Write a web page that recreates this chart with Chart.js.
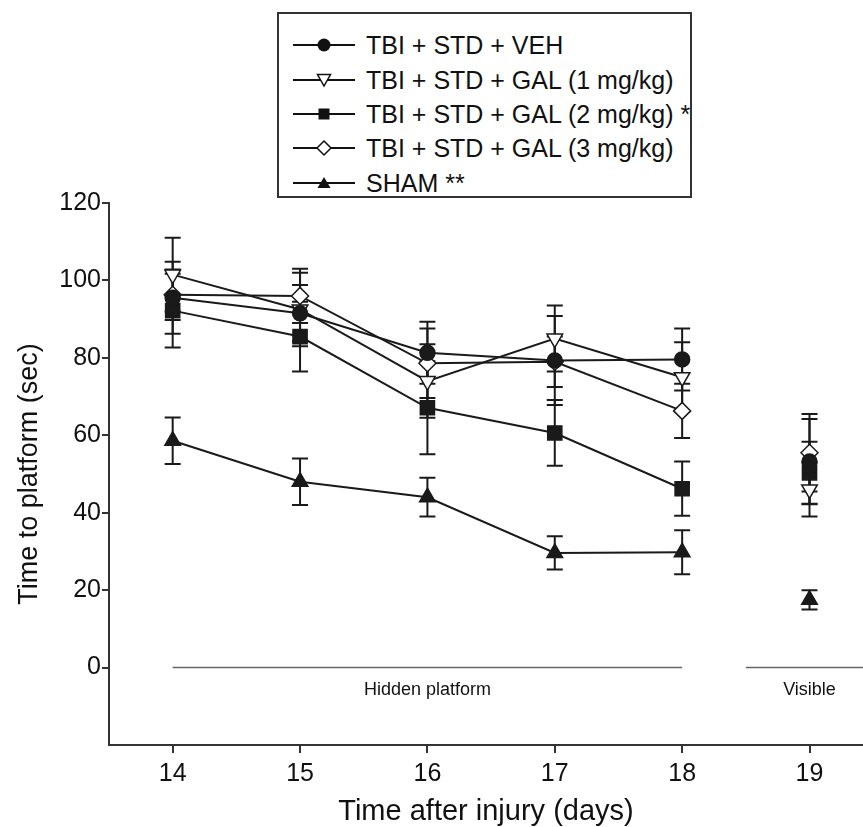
<!DOCTYPE html>
<html><head><meta charset="utf-8">
<script src="https://cdn.jsdelivr.net/npm/chart.js@4.4.1/dist/chart.umd.min.js"></script>
<style>
html,body{margin:0;padding:0;background:#fff;overflow:hidden}
#wrap{position:relative;width:863px;height:827px}
#c{position:absolute;left:0;top:0}
#legend{position:absolute;left:277px;top:12px;width:411px;height:182px;border:2px solid #333;font-family:"Liberation Sans",Arial,sans-serif;font-size:25px;color:#111;background:#fff}
.row{position:absolute;left:14px;height:34px;display:flex;align-items:center;white-space:nowrap}
.row svg{margin-right:11px}
</style></head>
<body><div id="wrap"><canvas id="c" width="863" height="827"></canvas><div id="legend"></div></div>
<script>
const days = [14, 15, 16, 17, 18, 19];
const seriesLabels = ["TBI + STD + VEH", "TBI + STD + GAL (1 mg/kg)", "TBI + STD + GAL (2 mg/kg) *", "TBI + STD + GAL (3 mg/kg)", "SHAM **"];
const veh = [95.5, 91.5, 81.3, 79.3, 79.6, 53.2];
const vehErr = [9.3, 7.3, 8, 11.5, 8, 11];
const gal1 = [101.5, 92.5, 74, 85, 75, 46];
const gal1Err = [9.5, 9.5, 9.5, 8.5, 9, 7];
const gal2 = [92.2, 85.5, 67.1, 60.6, 46.2, 50.3];
const gal2Err = [9.5, 9, 12, 8.5, 7, 8];
const gal3 = [96.3, 96, 78.6, 79, 66.3, 55.5];
const gal3Err = [6.5, 7, 9, 6.5, 7, 10];
const sham = [58.6, 48, 44, 29.6, 29.8, 17.5];
const shamErr = [6, 6, 5, 4.3, 5.7, 2.5];
const yTicks = [0, 20, 40, 60, 80, 100, 120];
const hiddenRange = [14, 18];
const visibleRange = [18.5, 19.42];
const sectionLabels = ["Hidden platform", "Visible"];

const FONT = '"Liberation Sans", Arial, sans-serif';
const INK = '#1a1a1a';

// HTML legend
const icons = [
  '<circle cx="31" cy="10" r="6.5" fill="#111"/>',
  '<polygon points="24.5,4.5 37.5,4.5 31,16" fill="#fff" stroke="#111" stroke-width="1.5"/>',
  '<rect x="25.5" y="4.5" width="11" height="11" fill="#111"/>',
  '<polygon points="31,3 38,10 31,17 24,10" fill="#fff" stroke="#111" stroke-width="1.5"/>',
  '<polygon points="31,4 37.5,15 24.5,15" fill="#111"/>'
];
const rowTops = [14, 49, 83, 117, 152];
const lg = document.getElementById('legend');
seriesLabels.forEach((t, i) => {
  const d = document.createElement('div');
  d.className = 'row';
  d.style.top = rowTops[i] + 'px';
  d.innerHTML = '<svg width="62" height="20"><line x1="0" y1="10" x2="62" y2="10" stroke="#111" stroke-width="2"/>' + icons[i] + '</svg><span>' + t + '</span>';
  lg.appendChild(d);
});

function mk(label, vals, errs, style, fill, rot, r) {
  return {
    label, errs,
    data: days.map((d, i) => ({x: d, y: vals[i]})),
    borderColor: INK, borderWidth: 2,
    pointStyle: style, pointRadius: r, pointHoverRadius: r,
    pointBackgroundColor: fill, pointBorderColor: INK, pointBorderWidth: 1.5,
    pointRotation: rot, tension: 0, fill: false,
    segment: {borderColor: c => c.p1DataIndex === 5 ? 'rgba(0,0,0,0)' : INK}
  };
}
function refLine(range) {
  return {label: '', data: range.map(v => ({x: v, y: 0})), borderColor: '#666', borderWidth: 1.5, pointRadius: 0, fill: false};
}

const errPlugin = {
  id: 'err',
  beforeDatasetsDraw(chart) {
    const ctx = chart.ctx, xs = chart.scales.x, ys = chart.scales.y;
    ctx.save();
    ctx.strokeStyle = INK; ctx.lineWidth = 2;
    chart.data.datasets.forEach(ds => {
      if (!ds.errs) return;
      ds.data.forEach((p, i) => {
        const x = xs.getPixelForValue(p.x);
        const y1 = ys.getPixelForValue(p.y + ds.errs[i]);
        const y2 = ys.getPixelForValue(p.y - ds.errs[i]);
        ctx.beginPath();
        ctx.moveTo(x, y1); ctx.lineTo(x, y2);
        ctx.moveTo(x - 8, y1); ctx.lineTo(x + 8, y1);
        ctx.moveTo(x - 8, y2); ctx.lineTo(x + 8, y2);
        ctx.stroke();
      });
    });
    ctx.restore();
  },
  afterDraw(chart) {
    const ctx = chart.ctx, xs = chart.scales.x, ys = chart.scales.y;
    ctx.save();
    ctx.fillStyle = '#111';
    ctx.font = '18px ' + FONT;
    ctx.textAlign = 'center'; ctx.textBaseline = 'middle';
    const y = ys.getPixelForValue(0) + 22;
    ctx.fillText(sectionLabels[0], xs.getPixelForValue((hiddenRange[0] + hiddenRange[1]) / 2), y);
    ctx.fillText(sectionLabels[1], xs.getPixelForValue(19), y);
    ctx.restore();
  }
};

new Chart(document.getElementById('c'), {
  type: 'line',
  data: {
    datasets: [
      mk(seriesLabels[0], veh, vehErr, 'circle', INK, 0, 7.5),
      mk(seriesLabels[1], gal1, gal1Err, 'triangle', '#fff', 180, 9),
      mk(seriesLabels[2], gal2, gal2Err, 'rect', INK, 0, 10),
      mk(seriesLabels[3], gal3, gal3Err, 'rectRot', '#fff', 0, 8.5),
      mk(seriesLabels[4], sham, shamErr, 'triangle', INK, 0, 9),
      refLine(hiddenRange),
      refLine(visibleRange)
    ]
  },
  options: {
    responsive: false, animation: false, devicePixelRatio: 1,
    layout: {autoPadding: false, padding: {top: 203, right: 0, left: 0, bottom: 0}},
    plugins: {legend: {display: false}, tooltip: {enabled: false}},
    scales: {
      x: {
        type: 'linear', min: 13.5, max: 19.42,
        afterBuildTicks: s => { s.ticks = days.map(v => ({value: v})); },
        afterFit: s => { s.height = 82; },
        ticks: {font: {family: FONT, size: 25}, color: '#111', padding: 6, maxRotation: 0, autoSkip: false},
        grid: {display: true, drawOnChartArea: false, drawTicks: true, tickLength: 8, color: '#333', lineWidth: 2},
        border: {display: true, color: '#333', width: 2},
        title: {display: true, text: 'Time after injury (days)', color: '#111', font: {family: FONT, size: 29, lineHeight: 1}, padding: {top: 0, bottom: 1}}
      },
      y: {
        type: 'linear', min: -20, max: 120,
        afterBuildTicks: s => { s.ticks = yTicks.map(v => ({value: v})); },
        afterFit: s => { s.width = 109; },
        ticks: {font: {family: FONT, size: 25}, color: '#111', padding: 1},
        grid: {display: true, drawOnChartArea: false, drawTicks: true, tickLength: 7, color: '#333', lineWidth: 2},
        border: {display: true, color: '#333', width: 2},
        title: {display: true, text: 'Time to platform (sec)', color: '#111', font: {family: FONT, size: 27, lineHeight: 1}, padding: {top: 16, bottom: 0}}
      }
    }
  },
  plugins: [errPlugin]
});
</script>
</body></html>
